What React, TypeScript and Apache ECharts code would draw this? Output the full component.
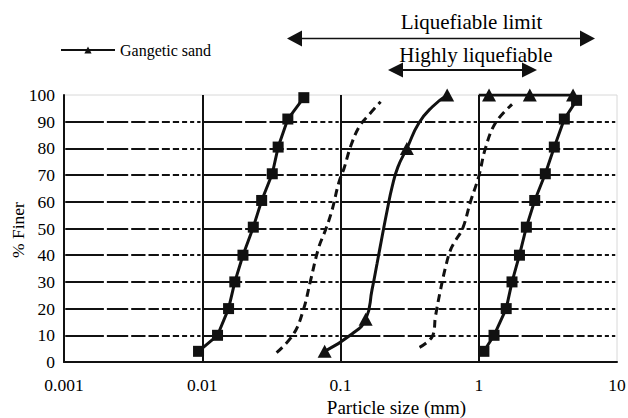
import React, { useEffect, useRef } from 'react';
import * as echarts from 'echarts';

// ---- data ----
const xTickLabels = ['0.001', '0.01', '0.1', '1', '10'];

const fineSquaresX = [0.0094, 0.0129, 0.0155, 0.0172, 0.0197, 0.0234, 0.0269, 0.0321, 0.0354, 0.0416, 0.0543];
const fineSquaresY = [4, 10, 20, 30, 40, 50.5, 60.5, 70.5, 80.5, 91, 99];

const lowerLimitX = [0.0345, 0.0458, 0.0542, 0.0604, 0.0697, 0.078, 0.087, 0.097, 0.106, 0.118, 0.136, 0.16, 0.195];
const lowerLimitY = [3.5, 10.5, 20, 30, 43, 49.5, 57, 67, 72.5, 80.5, 88, 92.5, 97.5];

const gangeticX = [0.0768, 0.121, 0.152, 0.169, 0.184, 0.2, 0.218, 0.236, 0.26, 0.302, 0.369, 0.46, 0.591];
const gangeticY = [4, 10.5, 16, 27, 37, 47, 57, 65.5, 73, 80, 89.5, 95.5, 100];
const gangeticMeasured = [true, false, true, false, false, false, false, false, false, true, false, false, true];

const upperLimitX = [0.373, 0.464, 0.486, 0.529, 0.575, 0.625, 0.679, 0.765, 0.871, 1.0, 1.117, 1.32, 1.74];
const upperLimitY = [5.5, 9.8, 17, 27, 35.5, 42, 45.5, 50, 60, 69.5, 80, 89.5, 96.5];

const coarseSquaresX = [1.09, 1.29, 1.58, 1.74, 1.97, 2.21, 2.54, 3.03, 3.52, 4.16, 5.1];
const coarseSquaresY = [4, 10, 20, 30, 40, 50.5, 60.5, 70.5, 80.5, 91, 98];

const coarseTrianglesX = [1.0, 1.187, 2.34, 4.81];
const coarseTrianglesY = [100, 100, 100, 100];
const coarseTrianglesMeasured = [false, true, true, true];

const legendName = 'Gangetic sand';
const xAxisTitle = 'Particle size (mm)';
const yAxisTitle = '% Finer';
const liquefiableText = 'Liquefiable limit';
const highlyText = 'Highly liquefiable';

const FONT = '"Liberation Serif", "Times New Roman", "DejaVu Serif", serif';

function pairs(xs: number[], ys: number[]) {
  return xs.map((x, i) => [x, ys[i]]);
}

export default function App() {
  const ref = useRef<HTMLDivElement>(null);

  useEffect(() => {
    document.body.style.margin = '0';
    const chart = echarts.init(ref.current!, null, { renderer: 'svg' });

    const W = 628;
    const gridLeft = 64;
    const gridRight = 11;
    const gridTop = 95;
    const gridBottom = 56;
    const decade = (W - gridLeft - gridRight) / 4;
    const gap = 3;
    const dash: number[] = [];
    for (let k = 1; k <= 9; k++) {
      const seg = decade * (Math.log10(k + 1) - Math.log10(k));
      dash.push(seg - gap, gap);
    }

    const black = '#111';
    const triSize = [14, 13];

    const arrow = (x1: number, x2: number, y: number, head: number, half: number, lw: number) => [
      {
        type: 'line',
        shape: { x1: x1 + head - 1, y1: y, x2: x2 - head + 1, y2: y },
        style: { stroke: black, lineWidth: lw },
      },
      {
        type: 'polygon',
        shape: { points: [[x1, y], [x1 + head, y - half], [x1 + head, y + half]] },
        style: { fill: black },
      },
      {
        type: 'polygon',
        shape: { points: [[x2, y], [x2 - head, y - half], [x2 - head, y + half]] },
        style: { fill: black },
      },
    ];

    const text = (t: string, x: number, y: number, size: number, rotation = 0) => ({
      type: 'text',
      x,
      y,
      rotation,
      style: {
        text: t,
        fontFamily: FONT,
        fontSize: size,
        fill: '#000',
        align: 'center',
        verticalAlign: 'middle',
      },
    });

    chart.setOption({
      animation: false,
      backgroundColor: '#fff',
      textStyle: { fontFamily: FONT },
      grid: {
        left: gridLeft,
        right: gridRight,
        top: gridTop,
        bottom: gridBottom,
        containLabel: false,
        outerBoundsMode: 'none',
        show: true,
        borderColor: '#d8d8d8',
        borderWidth: 1,
      },
      legend: {
        left: 55,
        top: 37,
        data: [legendName],
        itemWidth: 54,
        itemHeight: 9,
        itemGap: 5,
        textStyle: { fontFamily: FONT, fontSize: 16, color: '#000' },
      },
      xAxis: {
        type: 'log',
        logBase: 10,
        min: 0.001,
        max: 10,
        splitNumber: 4,
        axisLine: { show: true, onZero: false, lineStyle: { color: black, width: 2 } },
        axisTick: { show: false },
        axisLabel: {
          fontFamily: FONT,
          fontSize: 17.5,
          color: '#000',
          margin: 14,
          formatter: (v: number) => xTickLabels[Math.round(Math.log10(v)) + 3] ?? '',
        },
        splitLine: {
          show: true,
          showMinLine: false,
          showMaxLine: false,
          lineStyle: { color: black, width: 2 },
        },
      },
      yAxis: {
        type: 'value',
        min: 0,
        max: 100,
        interval: 10,
        axisLine: { show: true, lineStyle: { color: black, width: 2 } },
        axisTick: { show: false },
        axisLabel: { fontFamily: FONT, fontSize: 17.5, color: '#000', margin: 9 },
        splitLine: {
          show: true,
          showMinLine: false,
          showMaxLine: false,
          lineStyle: { color: black, width: 2, type: dash, dashOffset: decade - gap / 2 },
        },
      },
      series: [
        {
          name: 'fine',
          type: 'line',
          data: pairs(fineSquaresX, fineSquaresY),
          symbol: 'rect',
          symbolSize: 11,
          itemStyle: { color: black },
          lineStyle: { color: black, width: 3 },
        },
        {
          name: 'lower',
          type: 'line',
          data: pairs(lowerLimitX, lowerLimitY),
          smooth: 0.4,
          showSymbol: false,
          symbol: 'none',
          lineStyle: { color: black, width: 3, type: [8, 5] },
        },
        {
          name: legendName,
          type: 'line',
          data: gangeticX.map((x, i) => ({
            value: [x, gangeticY[i]],
            symbol: gangeticMeasured[i] ? 'triangle' : 'none',
          })),
          smooth: 0.5,
          symbol: 'triangle',
          symbolSize: triSize,
          showAllSymbol: true,
          itemStyle: { color: black },
          lineStyle: { color: black, width: 3 },
        },
        {
          name: 'upper',
          type: 'line',
          data: pairs(upperLimitX, upperLimitY),
          smooth: 0.4,
          showSymbol: false,
          symbol: 'none',
          lineStyle: { color: black, width: 3, type: [8, 5] },
        },
        {
          name: 'coarse',
          type: 'line',
          data: pairs(coarseSquaresX, coarseSquaresY),
          symbol: 'rect',
          symbolSize: 11,
          itemStyle: { color: black },
          lineStyle: { color: black, width: 3 },
        },
        {
          name: 'coarseTop',
          type: 'line',
          data: coarseTrianglesX.map((x, i) => ({
            value: [x, coarseTrianglesY[i]],
            symbol: coarseTrianglesMeasured[i] ? 'triangle' : 'none',
          })),
          symbol: 'triangle',
          symbolSize: triSize,
          showAllSymbol: true,
          itemStyle: { color: black },
          lineStyle: { color: black, width: 3 },
        },
      ],
      graphic: [
        text(liquefiableText, 471.5, 22, 21),
        text(highlyText, 476, 54.5, 21),
        text(xAxisTitle, 396.5, 407.5, 19),
        text(yAxisTitle, 18, 230, 17.5, Math.PI / 2),
        ...arrow(287, 595, 38.5, 15, 8, 1.5),
        ...arrow(388, 537, 70, 15, 7.5, 2),
      ],
    });

    return () => chart.dispose();
  }, []);

  return <div ref={ref} style={{ width: 628, height: 418 }} />;
}
